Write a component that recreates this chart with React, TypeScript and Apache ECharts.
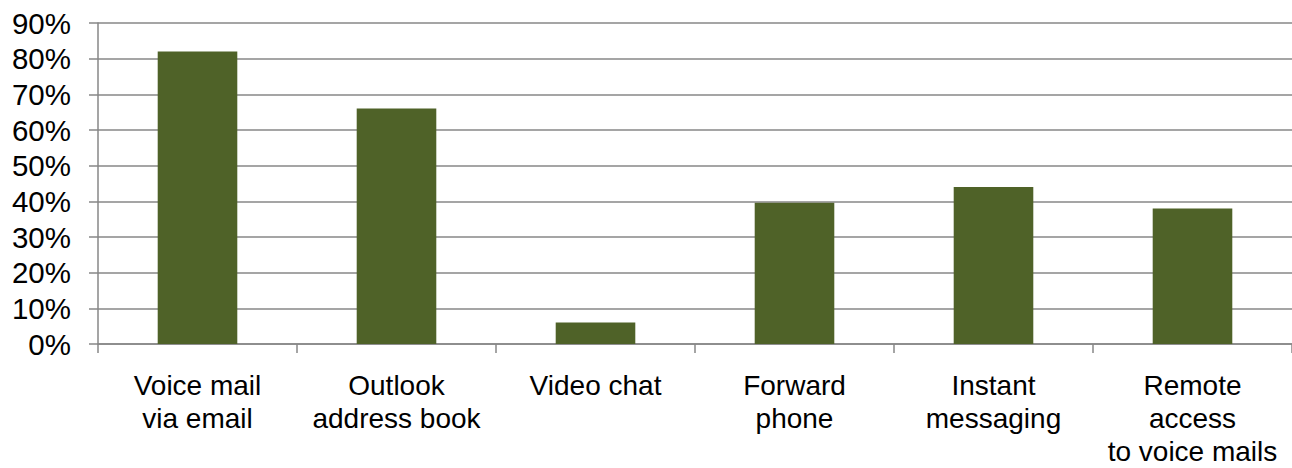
import React, { useEffect, useRef } from "react";
import * as echarts from "echarts";

const categories = [
  "Voice mail\nvia email",
  "Outlook\naddress book",
  "Video chat",
  "Forward\nphone",
  "Instant\nmessaging",
  "Remote\naccess\nto voice mails",
];
const values = [82, 66, 6, 39.6, 44, 38];
const yTicks = [0, 10, 20, 30, 40, 50, 60, 70, 80, 90];

export default function App() {
  const ref = useRef<HTMLDivElement>(null);
  useEffect(() => {
    document.body.style.margin = "0";
    const chart = echarts.init(ref.current!, null, { renderer: "svg" });
    const gridColor = "#878787";
    chart.setOption({
      animation: false,
      grid: { left: 98, right: 0, top: 23, bottom: 122, containLabel: false },
      xAxis: {
        type: "category",
        data: categories,
        axisLine: { show: true, lineStyle: { color: gridColor, width: 1.5 } },
        axisTick: { show: true, length: 9, alignWithLabel: false, lineStyle: { color: gridColor, width: 1.5 } },
        axisLabel: {
          interval: 0,
          margin: 25,
          fontFamily: "Liberation Sans, Arial, sans-serif",
          fontSize: 28,
          lineHeight: 33,
          color: "#000",
        },
      },
      yAxis: {
        type: "value",
        min: yTicks[0],
        max: yTicks[yTicks.length - 1],
        interval: 10,
        axisLine: { show: true, lineStyle: { color: gridColor, width: 1.5 } },
        axisTick: { show: true, length: 9, lineStyle: { color: gridColor, width: 1.5 } },
        splitLine: { show: true, lineStyle: { color: gridColor, width: 1.5 } },
        axisLabel: {
          margin: 27,
          formatter: (v: number) => v + "%",
          fontFamily: "Liberation Sans, Arial, sans-serif",
          fontSize: 29.5,
          color: "#000",
        },
      },
      series: [
        {
          type: "bar",
          data: values,
          barCategoryGap: "60%",
          itemStyle: { color: "#4F6228" },
        },
      ],
    });
    return () => chart.dispose();
  }, []);
  return <div ref={ref} style={{ width: 1292, height: 468 }} />;
}
